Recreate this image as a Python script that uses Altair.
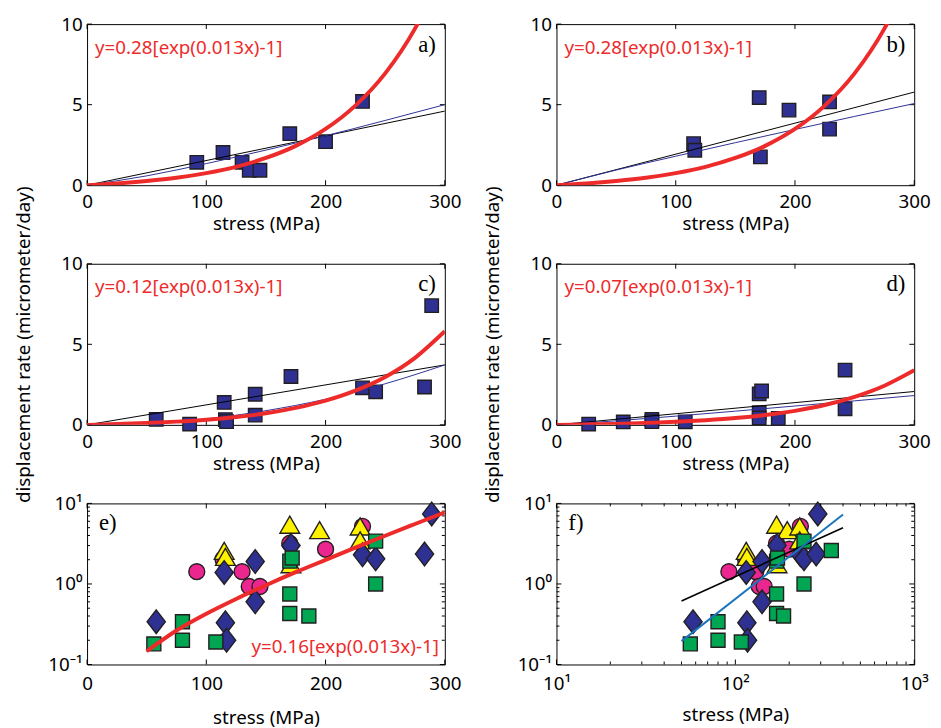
import altair as alt
import pandas as pd

# ---------------- data ----------------
# panel a  (magenta circles in e/f)
a_x = [92, 114, 130, 136, 145, 170, 200, 231]
a_y = [1.42, 2.03, 1.42, 0.93, 0.93, 3.2, 2.7, 5.2]
# panel b  (yellow triangles in e/f)
b_x = [115, 116, 170, 171, 195, 229, 229]
b_y = [2.58, 2.17, 5.44, 1.76, 4.66, 5.17, 3.48]
# panel c  (navy diamonds in e/f)
c_x = [58, 86, 115, 116, 117, 141, 141, 171, 231, 242, 283, 289]
c_y = [0.34, 0.05, 1.39, 0.33, 0.2, 1.9, 0.6, 3.0, 2.3, 2.05, 2.35, 7.4]
# panel d  (green squares in e/f)
d_x = [27, 56, 80, 80, 108, 170, 170, 170, 172, 186, 242, 242, 344]
d_y = [0.05, 0.18, 0.34, 0.2, 0.19, 0.75, 0.43, 1.92, 2.1, 0.4, 3.4, 1.0, 2.6]

# red fitted curves  y = A[exp(0.013x)-1]
red_x = [0, 25, 50, 75, 100, 125, 150, 175, 200, 225, 250, 275, 300]
red_a = [0, 0.11, 0.26, 0.46, 0.75, 1.14, 1.69, 2.44, 3.49, 4.94, 6.94, 9.72, 13.55]
red_b = [0, 0.11, 0.26, 0.46, 0.75, 1.14, 1.69, 2.44, 3.49, 4.94, 6.94, 9.72, 13.55]
red_c = [0, 0.05, 0.11, 0.20, 0.32, 0.49, 0.72, 1.05, 1.50, 2.12, 2.97, 4.16, 5.81]
red_d = [0, 0.03, 0.06, 0.12, 0.19, 0.29, 0.42, 0.61, 0.87, 1.23, 1.74, 2.43, 3.39]
red_e_x = [50, 75, 100, 125, 150, 175, 200, 225, 250, 275, 300]
red_e = [0.146, 0.264, 0.427, 0.652, 0.965, 1.40, 1.99, 2.82, 3.97, 5.55, 7.74]

# thin blue fits
blue_x = [0, 50, 100, 150, 200, 250, 300]
blue_a = [0, 0.58, 1.34, 2.18, 3.07, 4.02, 5.0]
blue_b = [0, 0.94, 1.80, 2.64, 3.46, 4.27, 5.07]
blue_c = [0, 0.09, 0.37, 0.88, 1.59, 2.55, 3.72]
blue_d = [0, 0.25, 0.54, 0.85, 1.17, 1.49, 1.82]
# thin black linear fits
black_x = [0, 300]
black_a = [0, 4.6]
black_b = [0, 5.78]
black_c = [0, 3.72]
black_d = [0, 2.07]
# panel f fits (log-log)
f_x = [50, 400]
f_black = [0.615, 5.0]
f_blue = [0.195, 7.3]

formulas = ["y=0.28[exp(0.013x)-1]", "y=0.28[exp(0.013x)-1]",
            "y=0.12[exp(0.013x)-1]", "y=0.07[exp(0.013x)-1]",
            "y=0.16[exp(0.013x)-1]"]
letters = ["a)", "b)", "c)", "d)", "e)", "f)"]
lin_x_ticks = [0, 100, 200, 300]
lin_y_ticks = [0, 5, 10]
log_y_major = [0.1, 1, 10]
log_y_minor = [0.2, 0.3, 0.4, 0.5, 0.6, 0.7, 0.8, 0.9, 2, 3, 4, 5, 6, 7, 8, 9]
log_x_major = [10, 100, 1000]
log_x_minor = [20, 30, 40, 50, 60, 70, 80, 90, 200, 300, 400, 500, 600, 700, 800, 900]

# ---------------- styling ----------------
W, H = 362, 163
FONT = "Noto Sans"
SERIF = "Liberation Serif"
FS = 19
NAVY = "#2E3192"
GREEN = "#00A651"
MAGENTA = "#EC268F"
YELLOW = "#FFF200"
EDGE = "#231F20"
RED = "#EE2B2B"
LBLUE = "#1C75BC"
YTITLE = "displacement rate (micrometer/day)"
DIAMOND = "M0,-1.3L1,0L0,1.3L-1,0Z"
TRIANGLE = "M0,-0.95L1.1,0.95L-1.1,0.95Z"

lin_x = alt.Scale(domain=[0, 300], nice=False, zero=False)
lin_y = alt.Scale(domain=[0, 10], nice=False, zero=False)
log_y = alt.Scale(type="log", domain=[0.1, 10], nice=False)
log_x = alt.Scale(type="log", domain=[10, 1000], nice=False)

LOGY_EXPR = "datum.value > 5 ? '10¹' : (datum.value > 0.5 ? '10⁰' : '10⁻¹')"
LOGX_EXPR = "datum.value > 500 ? '10³' : (datum.value > 50 ? '10²' : '10¹')"


def axis_x(values, expr=None, lpad=8, tpad=3):
    kw = dict(values=values, title="stress (MPa)", labelFlush=False,
              labelOverlap=False, labelPadding=lpad, titlePadding=tpad)
    if expr:
        kw["labelExpr"] = expr
    return alt.Axis(**kw)


def axis_y(values, title, expr=None):
    kw = dict(values=values, title=title, labelFlush=False, labelOverlap=False,
              labelPadding=5, titlePadding=28)
    if expr:
        kw["labelExpr"] = expr
    return alt.Axis(**kw)


class Panel:
    def __init__(self, xs_scale, ys_scale, xaxis, yaxis):
        self.xs, self.ys, self.xa, self.ya = xs_scale, ys_scale, xaxis, yaxis

    def X(self, f):
        return alt.X(f, scale=self.xs, axis=self.xa)

    def Y(self, f):
        return alt.Y(f, scale=self.ys, axis=self.ya)

    def points(self, xs, ys, shape, fill, size, filt):
        df = pd.DataFrame({"x": xs, "y": ys})
        ch = alt.Chart(df).mark_point(shape=shape, filled=True, fill=fill, stroke=EDGE,
                                      strokeWidth=1.4, size=size, opacity=1,
                                      fillOpacity=1, strokeOpacity=1)
        return ch.transform_filter(filt).encode(x=self.X("x:Q"), y=self.Y("y:Q"))

    def line(self, xs, ys, color, width, interp="linear"):
        df = pd.DataFrame({"x": xs, "y": ys})
        return alt.Chart(df).mark_line(color=color, strokeWidth=width, clip=True,
                                       interpolate=interp).encode(
            x=self.X("x:Q"), y=self.Y("y:Q"))

    def ticks(self, xvals, yvals, L):
        out = []
        if xvals:
            base = alt.Chart(pd.DataFrame({"v": xvals})).mark_rule(color="black", strokeWidth=1)
            out.append(base.encode(x=self.X("v:Q"), y=alt.value(H), y2=alt.value(H - L)))
            out.append(base.encode(x=self.X("v:Q"), y=alt.value(0), y2=alt.value(L)))
        if yvals:
            base = alt.Chart(pd.DataFrame({"v": yvals})).mark_rule(color="black", strokeWidth=1)
            out.append(base.encode(y=self.Y("v:Q"), x=alt.value(0), x2=alt.value(L)))
            out.append(base.encode(y=self.Y("v:Q"), x=alt.value(W), x2=alt.value(W - L)))
        return out


def label(text, x, y, align, font, size, color):
    return alt.Chart(pd.DataFrame({"t": [text]})).mark_text(
        align=align, baseline="middle", font=font, fontSize=size, color=color
    ).encode(text="t:N", x=alt.value(x), y=alt.value(y))


def top_panel(xs, ys, red, blue, black, formula, letter, ytitle):
    p = Panel(lin_x, lin_y, axis_x(lin_x_ticks), axis_y(lin_y_ticks, ytitle))
    layers = [p.points(xs, ys, "square", NAVY, 185, "datum.x <= 300")]
    layers += p.ticks(lin_x_ticks, lin_y_ticks, 5)
    layers.append(p.line(black_x, black, "black", 1))
    layers.append(p.line(blue_x, blue, NAVY, 1, "monotone"))
    layers.append(p.line(red_x, red, RED, 4, "monotone"))
    layers.append(label(formula, 8, 24, "left", FONT, FS, RED))
    layers.append(label(letter, W - 9, 21, "right", SERIF, 23, "black"))
    return alt.layer(*layers).properties(width=W, height=H)


pa = top_panel(a_x, a_y, red_a, blue_a, black_a, formulas[0], letters[0], "")
pb = top_panel(b_x, b_y, red_b, blue_b, black_b, formulas[1], letters[1], "")
pc = top_panel(c_x, c_y, red_c, blue_c, black_c, formulas[2], letters[2], YTITLE)
pd_ = top_panel(d_x, d_y, red_d, blue_d, black_d, formulas[3], letters[3], YTITLE)


def bottom_panel(p, xmajor, xminor, fit_specs, text_layers, xfilter):
    filt = "datum.y >= 0.1 && datum.y <= 10 && " + xfilter
    layers = [p.points(a_x, a_y, "circle", MAGENTA, 260, filt),
              p.points(b_x, b_y, TRIANGLE, YELLOW, 330, filt),
              p.points(c_x, c_y, DIAMOND, NAVY, 340, filt),
              p.points(d_x, d_y, "square", GREEN, 200, filt)]
    layers += p.ticks(xmajor, log_y_major, 5)
    layers += p.ticks(xminor, log_y_minor, 3)
    layers += [p.line(*spec) for spec in fit_specs]
    layers += text_layers
    return alt.layer(*layers).properties(width=W, height=H)


pe = bottom_panel(
    Panel(lin_x, log_y, axis_x(lin_x_ticks, None, 10, 16),
          axis_y(log_y_major, "", LOGY_EXPR)),
    lin_x_ticks, [],
    [(red_e_x, red_e, RED, 4, "monotone")],
    [label(formulas[4], W - 6, 145, "right", FONT, FS, RED),
     label(letters[4], 12, 20, "left", SERIF, 23, "black")],
    "datum.x <= 300")

pf = bottom_panel(
    Panel(log_x, log_y, axis_x(log_x_major, LOGX_EXPR, 10, 13),
          axis_y(log_y_major, "", LOGY_EXPR)),
    log_x_major, log_x_minor,
    [(f_x, f_black, "black", 1.6), (f_x, f_blue, LBLUE, 2)],
    [label(letters[5], 12, 20, "left", SERIF, 23, "black")],
    "datum.x >= 10")

chart = alt.concat(
    pa, pb, pc, pd_, pe, pf, columns=2,
    spacing={"row": 79.5, "column": 113}, bounds="flush"
).properties(
    padding={"left": 5, "top": 2, "right": 2, "bottom": 0}
).configure_view(
    stroke="black", strokeWidth=1
).configure_axis(
    grid=False, domain=False, ticks=False,
    labelFont=FONT, titleFont=FONT, labelFontSize=FS, titleFontSize=FS,
    titleFontWeight="normal", labelColor="black", titleColor="black"
)

chart.save("out.html", embed_options={"renderer": "svg", "actions": False})
